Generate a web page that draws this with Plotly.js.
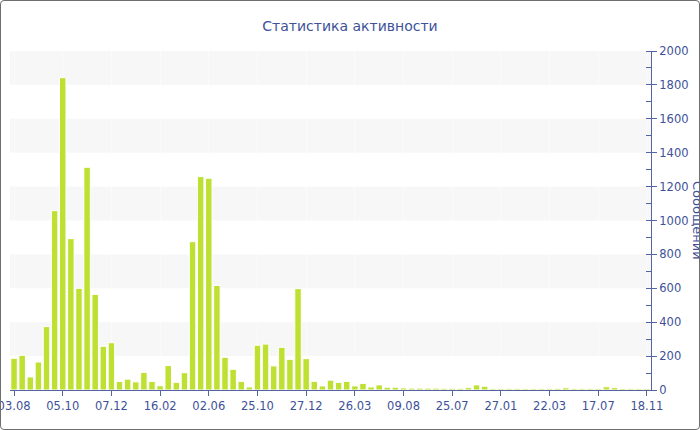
<!DOCTYPE html>
<html>
<head>
<meta charset="utf-8">
<script src="https://cdn.plot.ly/plotly-3.0.1.min.js"></script>
<style>
  html, body { margin: 0; padding: 0; background: #fff; }
  #wrap { position: relative; width: 700px; height: 430px; overflow: hidden; }
  #chart { width: 700px; height: 430px; }
  #frame { position: absolute; left: 0; top: 0; width: 700px; height: 430px; box-sizing: border-box;
           border: 1px solid #6f6f6f; border-radius: 4px; pointer-events: none; }
</style>
</head>
<body>
<div id="wrap"><div id="chart"></div><div id="frame"></div></div>
<script>
// Message counts per period (79 periods)
const messages = [
  187, 205, 77, 165, 374, 1058, 1843, 893, 600, 1314,
  564, 258, 279, 50, 64, 48, 104, 51, 25, 144,
  45, 102, 875, 1259, 1249, 617, 193, 122, 51, 18,
  264, 271, 142, 252, 181, 598, 185, 51, 24, 58,
  45, 51, 24, 39, 18, 30, 16, 16, 12, 11,
  11, 11, 11, 10, 10, 10, 14, 30, 22, 8,
  8, 8, 8, 8, 8, 8, 8, 10, 13, 8,
  8, 8, 8, 19, 14, 8, 8, 8, 8
];
// Labels shown on the x axis (every 6th period)
const tickLabels = ['03.08', '05.10', '07.12', '16.02', '02.06', '25.10', '27.12',
                    '26.03', '09.08', '25.07', '27.01', '22.03', '17.07', '18.11'];
const labelStep = 6;
const chartTitle = 'Статистика активности';
const yTitle = 'Сообщений';

const xIdx = messages.map((_, i) => i);
const tickVals = tickLabels.map((_, i) => i * labelStep);

const textColor = '#3e5199';
const axisColor = '#5564a3';

const bands = [];
for (let v = 200; v < 2000; v += 400) {
  bands.push({type: 'rect', xref: 'paper', yref: 'y', x0: 0, x1: 1, y0: v, y1: v + 200,
              fillcolor: '#f7f7f7', line: {width: 0}, layer: 'below'});
}

const trace = {
  type: 'bar',
  x: xIdx,
  y: messages,
  marker: {color: '#bee032', line: {color: '#ffffff', width: 1}},
  hoverinfo: 'y'
};

const layout = {
  width: 700, height: 430,
  margin: {l: 10, r: 49, t: 51, b: 40, pad: 0},
  paper_bgcolor: '#ffffff', plot_bgcolor: '#ffffff',
  font: {family: 'DejaVu Sans, Verdana, sans-serif', size: 11.5, color: textColor},
  title: {text: chartTitle, font: {size: 14, color: textColor}, x: 0.5, xanchor: 'center', y: 0.94, yanchor: 'middle'},
  bargap: 0.2,
  showlegend: false,
  shapes: bands,
  xaxis: {
    range: [-0.5, messages.length - 0.5],
    tickmode: 'array', tickvals: tickVals, ticktext: tickLabels,
    ticklabeloverflow: 'allow',
    showline: true, linecolor: axisColor, linewidth: 1,
    ticks: 'outside', ticklen: 5, tickcolor: axisColor,
    showgrid: true, gridcolor: 'rgba(255,255,255,0.55)', gridwidth: 1,
    zeroline: false, fixedrange: true,
    tickfont: {size: 11.5, color: textColor}
  },
  yaxis: {
    side: 'right',
    range: [0, 2000], dtick: 200, tick0: 0,
    showline: true, linecolor: axisColor, linewidth: 1,
    ticks: 'outside', ticklen: 5, tickcolor: axisColor,
    minor: {dtick: 100, ticks: 'inside', ticklen: 5, tickcolor: axisColor, showgrid: false},
    showgrid: false, zeroline: false, fixedrange: true,
    tickfont: {size: 11.5, color: textColor}
  },
  annotations: [{
    text: yTitle, xref: 'paper', yref: 'paper', x: 1.0725, y: 0.5,
    xanchor: 'center', yanchor: 'middle', textangle: 90, showarrow: false,
    font: {size: 13, color: textColor}
  }]
};

Plotly.newPlot('chart', [trace], layout, {displayModeBar: false, staticPlot: true});
</script>
</body>
</html>
